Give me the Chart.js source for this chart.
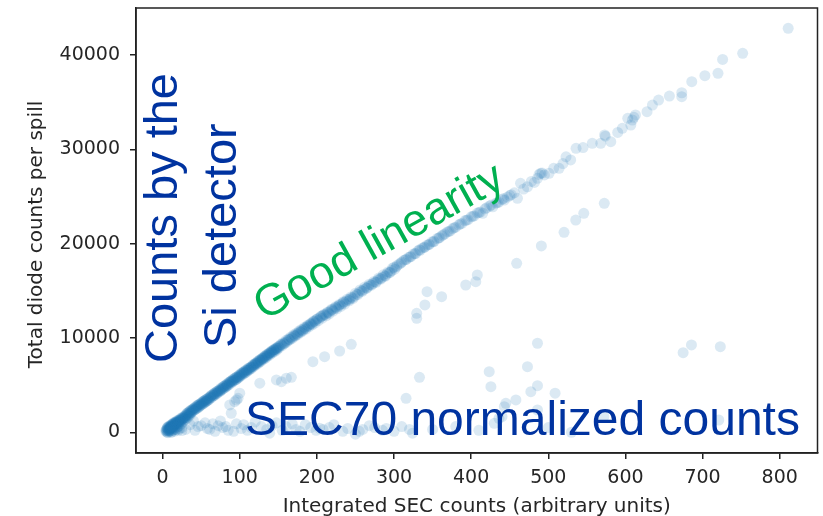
<!DOCTYPE html>
<html>
<head>
<meta charset="utf-8">
<script src="https://cdn.jsdelivr.net/npm/chart.js@4/dist/chart.umd.min.js"></script>
<style>
  html, body { margin: 0; padding: 0; background: #ffffff; }
  #wrap { width: 823px; height: 516px; position: relative; }
</style>
</head>
<body>
<div id="wrap"><canvas id="c" width="823" height="516"></canvas></div>
<script>
// Integrated SEC counts vs. total diode counts, one point per spill.

// Points along the main (linear) band: [SEC counts, diode counts]
const bandPoints = [
  [4,150],[5,300],[5,80],[6,420],[6,200],[6,0],[7,350],[7,560],[7,-50],[8,250],[8,480],[8,100],
  [9,620],[9,380],[9,120],[10,520],[10,700],[10,150],[11,450],[11,640],[11,-20],[12,800],[12,560],
  [12,50],[12,350],[13,700],[13,900],[14,620],[14,820],[14,250],[15,950],[15,760],[15,400],[16,880],
  [16,1050],[16,120],[17,980],[17,800],[18,1120],[18,900],[18,300],[19,1050],[20,1200],[20,1000],
  [20,200],[21,1150],[22,1300],[22,1080],[22,350],[23,1250],[24,1400],[24,1180],[25,1350],[25,180],
  [26,1500],[27,1450],[28,1620],[29,1550],[30,1750],
  [31,1850],[32,2050],[33,1800],[34,2150],[35,1950],[36,2300],[37,2100],[38,2250],[39,2450],[40,2300],
  [41,2550],[42,2400],[43,2650],[44,2500],[45,2800],[46,2600],[47,2900],[48,2750],[49,3000],[50,2900],
  [51,3150],[52,3000],[53,3250],[54,3100],[55,3400],[56,3250],[57,3500],[58,3350],[59,3600],[60,3450],
  [62,3800],[63,3650],[64,3950],[66,3900],[67,4100],[68,3950],[70,4300],[71,4150],[72,4400],[74,4400],
  [75,4650],[76,4500],[78,4800],[79,4650],[80,4900],[82,4850],[83,5100],[84,4950],[86,5300],[87,5100],
  [88,5400],[90,5350],[91,5600],[92,5450],[94,5750],[95,5550],[96,5850],[98,5800],[99,6050],[100,5900],
  [102,6250],[103,6050],[105,6400],[106,6250],[108,6600],[109,6400],[111,6800],[112,6600],[114,6900],
  [115,6750],[117,7150],[118,6950],[120,7300],[121,7150],[123,7500],[124,7300],[126,7700],[127,7500],
  [129,7850],[130,7700],[132,8050],[133,7850],[135,8250],[136,8050],[138,8400],[139,8200],[141,8600],
  [142,8400],[144,8750],[145,8550],[147,8950],[148,8700],[150,9100],[151,8950],[153,9300],[155,9200],
  [156,9500],[158,9400],[160,9750],[161,9550],[163,9900],[165,9800],[166,10100],[168,9950],[170,10350],
  [172,10200],[173,10500],[175,10350],[177,10750],[179,10600],[180,10900],[182,10750],[184,11150],
  [186,10950],[188,11350],[190,11200],[192,11550],[194,11400],[196,11800],[198,11600],[200,12000],
  [202,11850],[205,12300],[207,12100],[209,12500],[212,12350],[214,12750],[216,12550],[219,13050],
  [221,12850],[224,13300],[226,13100],[229,13550],[231,13350],[234,13850],[236,13600],[239,14100],
  [242,13950],[244,14350],[247,14200],[250,14750],[253,14600],[256,15100],[259,14950],[262,15400],
  [265,15300],[268,15700],[271,15600],[274,16000],[277,15900],[280,16350],[283,16250],[286,16700],
  [289,16550],[292,17000],[295,16950],[298,17400],[301,17300],
  [304,17700],[307,17850],[310,18050],[313,18250],[316,18350],[319,18550],[322,18650],[325,18900],
  [328,18950],[331,19250],[334,19300],[337,19550],[340,19650],[343,19850],[346,19950],[349,20200],
  [352,20250],[356,20550],[359,20650],[362,20850],[366,21050],[369,21250],[373,21350],[376,21600],
  [380,21750],[384,22000],[388,22150],[392,22450],[396,22550],[400,22850],[404,22950],[408,23250],
  [412,23350],[415,23220],[420,23800],[424,24000],[428,23920],[432,24300],[436,24400],[440,24700],
  [443,24630],[447,24950],[452,25200],[456,25400],[460,24810],[464,26400],[468,25800],[473,26040],
  [478,26600],[482,26500],[486,26930],[488,27350],[490,27460],[492,27500],[495,27300],[501,27460],
  [507,28000],[514,27990],[519,28500],[523,29220],[529,28880],[536,30120],[545,30200],[557,30650],
  [568,30650],[573,31530],[574,31400],[581,30820],[590,31800],[596,32240],[603,33300],[607,32590],
  [609,33120],[611,33400],[613,33650],[628,34000],[635,34700],[643,35240],[657,35660],[673,36010],
  [673,35590],[686,37180],[703,37820],[720,38070],[726,39550],[752,40190],[811,42840]
];

// Further spills on the same band (the low-count region is densely populated)
const bandPointsDense = [
  [5,200],[6,500],[7,150],[8,650],[9,250],[10,400],[11,800],[12,200],[13,450],[14,1000],[15,550],
  [16,300],[17,650],[18,500],[19,800],[20,600],[21,900],[22,700],[24,900],[26,1100],[28,1300],
  [30,1400],[32,1500],[34,1700],[36,1850],
  [8,300],[9,450],[10,380],[11,560],[12,700],[13,600],[14,880],[15,700],[16,950],[17,1100],[18,1000],
  [19,1250],[20,1100],[21,1300],[22,1200],[23,1450],[24,1300],[25,1550],[26,1400],[27,1650],[28,1500],
  [29,1750],[30,1600],[31,1950],[32,1800],[33,2050],[34,1950],[35,2200],[36,2050],[37,2350],[38,2150],
  [39,2400],[40,2500],[41,2350],[42,2650],[43,2500],[44,2800],[45,2650],[46,2900],[47,2750],[48,3000],
  [49,2850],[50,3100],[51,2950],[52,3250],[53,3100],[54,3350],[55,3200],[56,3450],[57,3300],[58,3550],
  [59,3400],[60,3700],[61,3600],[62,3750],[63,3900],[64,3750],[65,4000],[66,3850],[67,4150],[68,4050],
  [69,4250],[70,4100],[71,4350],[72,4250],[73,4450],[74,4300],[75,4550],[76,4450],[77,4700],[78,4600],
  [79,4850],[80,4700],[81,4950],[82,4800],[83,5000],[84,5150],[85,5000],[86,5250],[87,5200],[88,5350],
  [89,5450],[90,5300],[91,5550],[92,5500],[93,5700],[94,5550],[95,5800],[96,5650],[97,5900],[98,5750],
  [99,5950],[100,6100],[101,6000],[102,6150],[103,6300],[104,6200],[105,6350],[106,6450],[107,6300],
  [108,6550],[109,6500],[110,6650],[111,6600],[112,6800],[113,6700],[114,6850],[115,6950],[116,6900],
  [117,7050],[118,7150],[119,7100],[120,7250],[121,7350],[122,7300],[123,7400],[124,7550],[125,7450],
  [126,7600],[127,7700],[128,7650],[129,7800],[130,7900],[131,7850],[132,7950],[133,8100],[134,8000],
  [135,8150],[136,8250],[137,8200],[138,8350],[139,8450],[140,8400],[141,8500],[142,8650],[143,8550],
  [144,8700],[145,8800],[146,8750],[147,8850],[148,8950],[149,8900],[150,9050],
  [152,9150],[154,9300],[157,9400],[159,9550],[162,9700],[164,9850],[167,10000],[169,10150],
  [171,10250],[174,10400],[176,10550],[178,10650],[181,10800],[183,10950],[185,11050],[187,11200],
  [189,11300],[191,11450],[193,11500],[195,11700],[197,11750],[199,11900],[201,12050],[204,12150],
  [206,12300],[208,12400],[211,12500],[213,12650],[215,12700],[218,12900],[220,13000],[223,13150],
  [225,13250],[228,13400],[230,13500],[233,13650],[235,13800],[238,13900],[241,14050],[243,14150],
  [246,14300],[249,14450],[252,14650],[255,14850],[258,15000],[261,15150],[264,15300],[267,15500],
  [270,15650],[273,15800],[276,15950],[279,16150],[282,16300],[285,16450],[288,16600],[291,16800],
  [294,16950],[297,17150],[300,17500],
  [303,17550],[309,17950],[315,18300],[321,18600],[327,18950],[333,19350],[339,19600],[345,19900],
  [351,20200],[358,20600],[364,20950],[371,21300],[378,21700],[386,22100],[394,22500],[402,22900],
  [410,23300],[418,23700],[426,24100],[434,24350],[442,24800],[450,25100]
];

// Spills off the main band: [SEC counts, diode counts]
const strayPoints = [
  [572.6,24280],[546,23220],[535.6,22510],[520.4,21210],[491,19760],[459,17920],[408,16680],
  [406,15970],[393,15620],[361.7,14380],[342.8,14910],[340,13500],[329.4,12620],[329.4,12090],
  [244.6,9330],[229.5,8620],[210,8020],[194.8,7490],[166.9,5830],[160.4,5730],[147.5,5550],
  [154,5370],[126,5200],[100,4140],[97.8,3600],[95.7,3430],[87,2900],[89,2015],[93.5,3245],
  [486,9440],[473,6960],[477.4,4300],[486,4940],[508.8,4140],[458,3425],[445,3075],[443,2715],
  [423.4,6430],[425.6,4840],[333,5830],[315.6,3600],[436,1480],[440,1650],[430,950],[486,2360],
  [572,1650],[674.8,8440],[685.6,9260],[723,9080],[721,1300],[324,-100],
  [35.6,800],[46,600],[61,300],[72,700],[85,200],[95.7,900],[102,400],[128,600],[147.5,1000],
  [173,300],[199,200],[216,500],[233.6,100],[259.5,300],[268,700],[138.8,-100],[203.5,425],
  [40,1200],[55,1000],[65,900],[78,500],[110,200],[120,1100],[160,600],[185,800],[250,-200],
  [290,400],[300,100],[350,300],[380,600],[410,200],[500,500],[530,0],
  [25,500],[30,300],[42,200],[50,700],[58,400],[68,100],[75,1200],[82,600],[92,100],[105,800],
  [115,500],[135,300],[142,700],[155,200],[168,900],[178,100],[192,500],[208,300],[222,800],
  [240,400],[255,100],[275,500],[285,200],[310,600],[320,300]
];

const xTickValues = [0, 100, 200, 300, 400, 500, 600, 700, 800];
const yTickValues = [0, 10000, 20000, 30000, 40000];
const xRange = [-34.5, 849];
const yRange = [-2200, 45000];

const xTitle = 'Integrated SEC counts (arbitrary units)';
const yTitle = 'Total diode counts per spill';
const noteAxisY = ['Counts by the', 'Si detector'];
const noteAxisX = 'SEC70 normalized counts';
const noteFit = 'Good linearity';

const axisColor = '#222222';
const labelColor = '#262626';
const tickFont = { family: 'DejaVu Sans', size: 19 };

const toXY = p => ({ x: p[0], y: p[1] });

const frameAndNotes = {
  id: 'frameAndNotes',
  afterDraw(chart) {
    const { ctx, chartArea: a } = chart;
    ctx.save();
    // full axes frame
    ctx.strokeStyle = axisColor;
    ctx.lineWidth = 1.5;
    ctx.strokeRect(a.left, a.top, a.right - a.left, a.bottom - a.top);

    // axis titles
    ctx.fillStyle = labelColor;
    ctx.font = '20px "DejaVu Sans"';
    ctx.textAlign = 'center';
    ctx.textBaseline = 'alphabetic';
    ctx.fillText(xTitle, (a.left + a.right) / 2, 512);
    ctx.save();
    ctx.translate(42, (a.top + a.bottom) / 2 + 4);
    ctx.rotate(-Math.PI / 2);
    ctx.fillText(yTitle, 0, 0);
    ctx.restore();

    // annotations
    ctx.textAlign = 'left';
    ctx.fillStyle = '#0033a0';
    ctx.font = '47px "Liberation Sans"';
    ctx.save();
    ctx.translate(177, 363);
    ctx.rotate(-Math.PI / 2);
    ctx.fillText(noteAxisY[0], 0, 0);
    ctx.restore();
    ctx.save();
    ctx.translate(236, 348);
    ctx.rotate(-Math.PI / 2);
    ctx.fillText(noteAxisY[1], 0, 0);
    ctx.restore();
    ctx.font = '48px "Liberation Sans"';
    ctx.fillText(noteAxisX, 245, 435);

    ctx.fillStyle = '#00b050';
    ctx.font = '45px "Liberation Sans"';
    ctx.save();
    ctx.translate(264, 321);
    ctx.rotate(-29 * Math.PI / 180);
    ctx.fillText(noteFit, 0, 0);
    ctx.restore();
    ctx.restore();
  }
};

new Chart(document.getElementById('c'), {
  type: 'scatter',
  data: {
    datasets: [{
      data: bandPoints.concat(bandPointsDense, strayPoints).map(toXY),
      backgroundColor: 'rgba(31,119,180,0.16)',
      borderWidth: 0,
      pointRadius: 5.5,
      pointHoverRadius: 5.5
    }]
  },
  options: {
    responsive: false,
    animation: false,
    events: [],
    layout: { padding: { left: 0, right: 4, top: 8, bottom: 0 } },
    plugins: { legend: { display: false }, tooltip: { enabled: false } },
    scales: {
      x: {
        type: 'linear',
        min: xRange[0],
        max: xRange[1],
        afterBuildTicks: s => { s.ticks = xTickValues.map(v => ({ value: v })); },
        afterFit: s => { s.height = 63; s.paddingLeft = 0; s.paddingRight = 0; },
        grid: { drawOnChartArea: false, drawTicks: true, tickLength: 6, color: axisColor, lineWidth: 1.5 },
        border: { display: true, color: axisColor, width: 1.5 },
        ticks: { font: tickFont, color: labelColor, padding: 8, maxRotation: 0, autoSkip: false,
                 callback: v => String(v) }
      },
      y: {
        type: 'linear',
        min: yRange[0],
        max: yRange[1],
        afterBuildTicks: s => { s.ticks = yTickValues.map(v => ({ value: v })); },
        afterFit: s => { s.width = 136; s.paddingTop = 0; s.paddingBottom = 0; },
        grid: { drawOnChartArea: false, drawTicks: true, tickLength: 6, color: axisColor, lineWidth: 1.5 },
        border: { display: true, color: axisColor, width: 1.5 },
        ticks: { font: tickFont, color: labelColor, padding: 10, autoSkip: false,
                 callback: v => String(v) }
      }
    }
  },
  plugins: [frameAndNotes]
});
</script>
</body>
</html>
